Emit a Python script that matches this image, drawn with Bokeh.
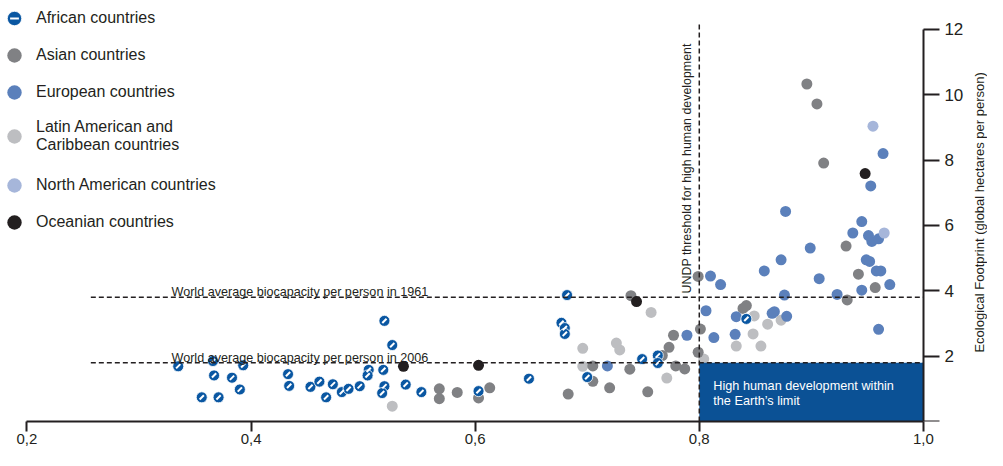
import math
from bokeh.plotting import figure
from bokeh.models import (Range1d, FixedTicker, CustomJSTickFormatter, Label,
                          Legend, LegendItem)
from bokeh.embed import file_html
from bokeh.resources import INLINE

FONT = "Liberation Sans"
TXT = "#231f20"

# ---- data: Human Development Index (x) vs Ecological Footprint (y) ----
african_hdi = [0.335, 0.366, 0.367, 0.356, 0.371, 0.383, 0.390, 0.393, 0.433, 0.434,
               0.453, 0.461, 0.467, 0.473, 0.481, 0.487, 0.497, 0.505, 0.504, 0.518,
               0.519, 0.517, 0.519, 0.526, 0.538, 0.552, 0.603, 0.648, 0.682, 0.677,
               0.680, 0.680, 0.700, 0.749, 0.763, 0.763, 0.842]
african_ef = [1.69, 1.85, 1.41, 0.74, 0.74, 1.34, 0.98, 1.72, 1.45, 1.09,
              1.06, 1.22, 0.74, 1.14, 0.90, 1.00, 1.08, 1.58, 1.41, 1.58,
              1.08, 0.87, 3.08, 2.34, 1.13, 0.90, 0.93, 1.31, 3.87, 3.02,
              2.86, 2.68, 1.36, 1.91, 2.02, 1.79, 3.14]

asian_hdi = [0.568, 0.568, 0.584, 0.603, 0.613, 0.683, 0.705, 0.705, 0.720, 0.738,
             0.739, 0.754, 0.767, 0.773, 0.777, 0.779, 0.787, 0.799, 0.801, 0.799,
             0.839, 0.842, 0.896, 0.905, 0.911, 0.931, 0.942, 0.957, 0.932]
asian_ef = [1.00, 0.70, 0.89, 0.72, 1.03, 0.84, 1.70, 1.23, 1.03, 1.60,
            3.85, 0.91, 2.02, 2.27, 2.64, 1.70, 1.61, 4.44, 2.83, 2.12,
            3.46, 3.55, 10.33, 9.72, 7.91, 5.37, 4.51, 4.10, 3.72]

european_hdi = [0.718, 0.789, 0.806, 0.810, 0.819, 0.813, 0.833, 0.832, 0.858, 0.865,
                0.867, 0.876, 0.878, 0.907, 0.923, 0.945, 0.958, 0.962, 0.970, 0.960,
                0.877, 0.945, 0.937, 0.951, 0.954, 0.960, 0.899, 0.873, 0.949, 0.952,
                0.964, 0.953]
european_ef = [1.70, 2.64, 3.39, 4.45, 4.19, 2.57, 3.21, 2.67, 4.61, 3.31,
               3.36, 3.87, 3.22, 4.37, 3.89, 4.02, 4.61, 4.61, 4.19, 2.82,
               6.43, 6.12, 5.77, 5.69, 5.51, 5.59, 5.31, 4.95, 4.95, 4.90,
               8.20, 7.21]

latin_hdi = [0.526, 0.696, 0.696, 0.726, 0.729, 0.757, 0.771, 0.804, 0.849, 0.848,
             0.861, 0.833, 0.855, 0.873]
latin_ef = [0.47, 2.24, 1.69, 2.40, 2.19, 3.34, 1.33, 1.91, 3.23, 2.68,
            2.98, 2.31, 2.31, 3.10]

northam_hdi = [0.955, 0.965]
northam_ef = [9.04, 5.77]

oceania_hdi = [0.536, 0.603, 0.744, 0.948]
oceania_ef = [1.69, 1.72, 3.67, 7.59]

x_ticks = [0.2, 0.4, 0.6, 0.8, 1.0]
y_ticks = [0, 2, 4, 6, 8, 10, 12]

biocap_1961 = 3.8
biocap_2006 = 1.8
biocap_line_start = 0.257
undp_threshold = 0.8
undp_line_top = 12.15
undp_label_y = 3.92
biocap_label_x = 0.329
y_title = "Ecological Footprint (global hectares per person)"
y_title_mid = 6.4

legend_labels = ["African countries", "Asian countries", "European countries",
                 "Latin American and\nCaribbean countries",
                 "North American countries", "Oceanian countries"]

# ---- colours ----
C_AF = "#0a57a2"
C_AS = "#808184"
C_EU = "#5b80bb"
C_LA = "#bdbec1"
C_NA = "#a6b6da"
C_OC = "#231f20"
C_BOX = "#0b5195"

p = figure(width=987, height=450, output_backend="svg", toolbar_location=None,
           x_range=Range1d(0.1764, 1.0572), y_range=Range1d(0, 12.886),
           y_axis_location="right",
           min_border_left=0, min_border_top=0, min_border_right=0,
           min_border_bottom=29)
p.outline_line_color = None
p.grid.visible = False
p.background_fill_color = "white"

MS = 11
r_la = p.scatter(latin_hdi, latin_ef, size=MS, fill_color=C_LA, line_color=None)
r_as = p.scatter(asian_hdi, asian_ef, size=MS, fill_color=C_AS, line_color=None)
r_eu = p.scatter(european_hdi, european_ef, size=MS, fill_color=C_EU, line_color=None)
r_na = p.scatter(northam_hdi, northam_ef, size=MS, fill_color=C_NA, line_color=None)
r_oc = p.scatter(oceania_hdi, oceania_ef, size=MS, fill_color=C_OC, line_color=None)
r_af = p.scatter(african_hdi, african_ef, size=MS, fill_color=C_AF,
                 line_color="white", line_width=0.8)
r_af_slash = p.scatter(african_hdi, african_ef, marker="dash", size=6,
                       angle=math.pi / 4, line_color="white", line_width=2)

# box: high human development within the Earth's limit
p.quad(left=[undp_threshold], right=[x_ticks[-1]], bottom=[0], top=[biocap_2006],
       fill_color=C_BOX, line_color=None)

# reference lines
DASH = "5 3"
p.line([biocap_line_start, x_ticks[-1]], [biocap_1961, biocap_1961],
       line_dash=DASH, line_color=TXT, line_width=1.5)
p.line([biocap_line_start, x_ticks[-1]], [biocap_2006, biocap_2006],
       line_dash=DASH, line_color=TXT, line_width=1.5)
p.line([undp_threshold, undp_threshold], [0, undp_line_top],
       line_dash=DASH, line_color=TXT, line_width=1.5)

# axes
xa = p.xaxis[0]
xa.ticker = FixedTicker(ticks=x_ticks)
xa.formatter = CustomJSTickFormatter(code="return tick.toFixed(1).replace('.', ',');")
xa.bounds = (x_ticks[0], x_ticks[-1])
xa.minor_tick_line_color = None
xa.major_tick_in = 0
xa.major_tick_out = 10
xa.major_tick_line_width = 2
xa.major_tick_line_color = TXT
xa.axis_line_width = 2
xa.axis_line_color = TXT
xa.major_label_text_font = FONT
xa.major_label_text_font_size = "15px"
xa.major_label_text_color = TXT
xa.major_label_standoff = 2

ya = p.yaxis[0]
ya.fixed_location = x_ticks[-1]
ya.ticker = FixedTicker(ticks=y_ticks)
ya.formatter = CustomJSTickFormatter(code="return tick == 0 ? '' : tick.toFixed(0);")
ya.bounds = (y_ticks[0], y_ticks[-1])
ya.minor_tick_line_color = None
ya.major_tick_in = 0
ya.major_tick_out = 16
ya.major_tick_line_width = 2
ya.major_tick_line_color = TXT
ya.axis_line_width = 2
ya.axis_line_color = TXT
ya.major_label_text_font = FONT
ya.major_label_text_font_size = "17px"
ya.major_label_text_color = TXT
ya.major_label_standoff = 5

# y-axis title, reading bottom-to-top, right of the axis
p.add_layout(Label(x=x_ticks[-1], y=y_title_mid, x_offset=56, angle=math.pi / 2,
                   text=y_title, text_font=FONT, text_font_size="13px",
                   text_color=TXT, text_align="center", text_baseline="middle"))

# annotations
ANN = "12.6px"
p.add_layout(Label(x=biocap_label_x, y=biocap_1961, y_offset=5,
                   text="World average biocapacity per person in 1961",
                   text_font=FONT, text_font_size=ANN, text_color=TXT,
                   text_baseline="alphabetic"))
p.add_layout(Label(x=biocap_label_x, y=biocap_2006, y_offset=5,
                   text="World average biocapacity per person in 2006",
                   text_font=FONT, text_font_size=ANN, text_color=TXT,
                   text_baseline="alphabetic"))
p.add_layout(Label(x=undp_threshold, y=undp_label_y, x_offset=-5, angle=math.pi / 2,
                   text="UNDP threshold for high human development",
                   text_font=FONT, text_font_size="12.4px", text_color=TXT,
                   text_align="left", text_baseline="bottom"))
p.add_layout(Label(x=undp_threshold, y=biocap_2006, x_offset=14, y_offset=-16,
                   text="High human development within\nthe Earth\u2019s limit",
                   text_font=FONT, text_font_size="12.7px", text_color="white",
                   text_align="left", text_baseline="top", text_line_height=1.1))

# legend (split in blocks so the two-line entry gets its extra room)
renders = [r_af, r_as, r_eu, r_la, r_na, r_oc]
items = [LegendItem(label=lbl, renderers=[r]) for lbl, r in zip(legend_labels, renders)]
LEG = dict(padding=0, spacing=1, glyph_width=36, glyph_height=36, label_standoff=4,
           label_text_font=FONT, label_text_font_size="16px", label_text_color=TXT,
           border_line_color=None, background_fill_alpha=0)
leg1 = Legend(items=items[0:3], location=(-4, 311), **LEG)
leg2 = Legend(items=items[3:4], location=(-4, 267), **LEG)
leg3 = Legend(items=items[4:6], location=(-4, 181), **LEG)
legB = Legend(items=[LegendItem(label=" ", renderers=[r_af_slash])], location=(3, 392),
              padding=0, spacing=0, glyph_width=22, glyph_height=22, label_height=10,
              label_text_font_size="6px", border_line_color=None, background_fill_alpha=0)
for lg in (leg1, leg2, leg3, legB):
    p.add_layout(lg)

open("out.html", "w").write(file_html(p, INLINE))
